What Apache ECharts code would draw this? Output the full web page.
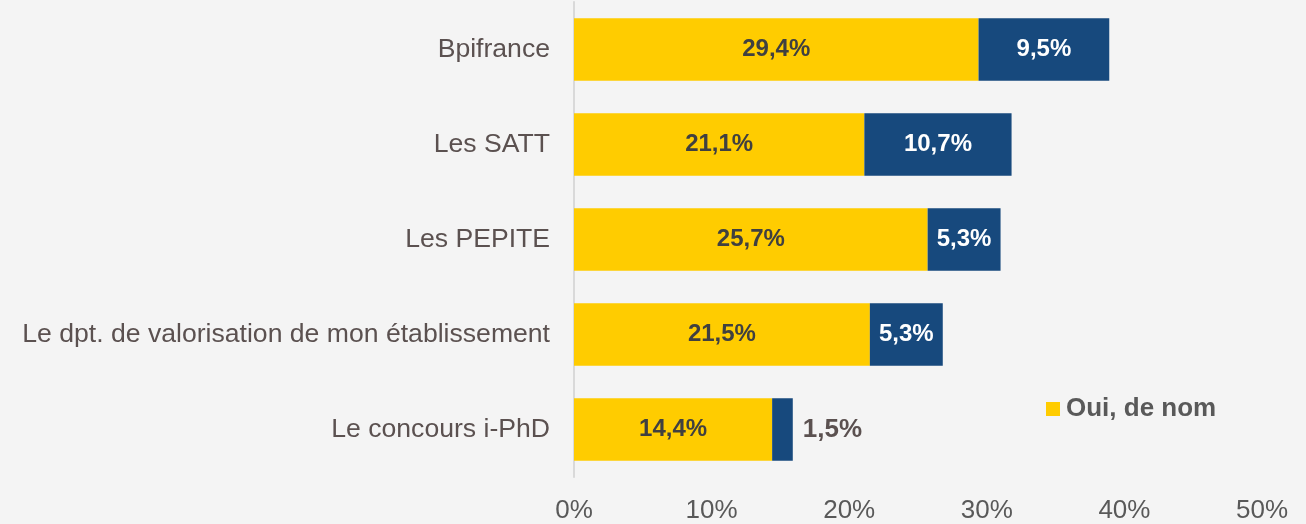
<!DOCTYPE html>
<html>
<head>
<meta charset="utf-8">
<script src="https://cdn.jsdelivr.net/npm/echarts@6/dist/echarts.min.js"></script>
<style>
  html, body { margin: 0; padding: 0; background: #f4f4f4; }
  #chart { width: 1306px; height: 524px; }
</style>
</head>
<body>
<div id="chart"></div>
<script>
// categories, top to bottom
var categories = [
  'Bpifrance',
  'Les SATT',
  'Les PEPITE',
  'Le dpt. de valorisation de mon établissement',
  'Le concours i-PhD'
];
var ouiDeNom = [29.4, 21.1, 25.7, 21.5, 14.4];
var ouiContact = [9.5, 10.7, 5.3, 5.3, 1.5];
var xTicks = [0, 10, 20, 30, 40, 50];

var FONT = '"Liberation Sans", Arial, sans-serif';

function pct(v) {
  return v.toFixed(1).replace('.', ',') + '%';
}

var chart = echarts.init(document.getElementById('chart'));

chart.setOption({
  backgroundColor: '#f4f4f4',
  animation: false,
  grid: { left: 574, right: 44, top: 2, bottom: 47 },
  legend: {
    data: ['Oui, de nom'],
    left: 1041,
    top: 391,
    itemWidth: 14,
    itemHeight: 14,
    itemGap: 6,
    icon: 'rect',
    textStyle: { fontFamily: FONT, fontSize: 26, fontWeight: 'bold', color: '#595959', padding: [0, 0, 0, 1] }
  },
  xAxis: {
    type: 'value',
    min: xTicks[0],
    max: xTicks[xTicks.length - 1],
    interval: 10,
    splitLine: { show: false },
    axisLine: { show: false },
    axisTick: { show: false },
    axisLabel: {
      margin: 21,
      fontFamily: FONT,
      fontSize: 26,
      color: '#595959',
      formatter: function (v) { return v + '%'; }
    }
  },
  yAxis: {
    type: 'category',
    data: categories,
    inverse: true,
    axisLine: { show: true, lineStyle: { color: '#d9d9d9', width: 2 } },
    axisTick: { show: false },
    axisLabel: {
      margin: 24,
      fontFamily: FONT,
      fontSize: 26.6,
      color: '#5b5150'
    }
  },
  series: [
    {
      name: 'Oui, de nom',
      type: 'bar',
      stack: 'total',
      barWidth: '66%',
      itemStyle: { color: '#ffcc00' },
      label: {
        show: true,
        position: 'inside',
        fontFamily: FONT,
        fontSize: 24,
        fontWeight: 'bold',
        color: '#404040',
        formatter: function (p) { return pct(p.value); }
      },
      data: ouiDeNom
    },
    {
      name: 'Oui, et contact',
      type: 'bar',
      stack: 'total',
      itemStyle: { color: '#17497d' },
      label: {
        show: true,
        position: 'inside',
        fontFamily: FONT,
        fontSize: 24,
        fontWeight: 'bold',
        color: '#ffffff',
        formatter: function (p) { return pct(p.value); }
      },
      data: ouiContact.map(function (v) {
        if (v < 3) {
          return { value: v, label: { position: 'right', distance: 10, fontSize: 26, color: '#5b5150' } };
        }
        return v;
      })
    }
  ]
});
</script>
</body>
</html>
